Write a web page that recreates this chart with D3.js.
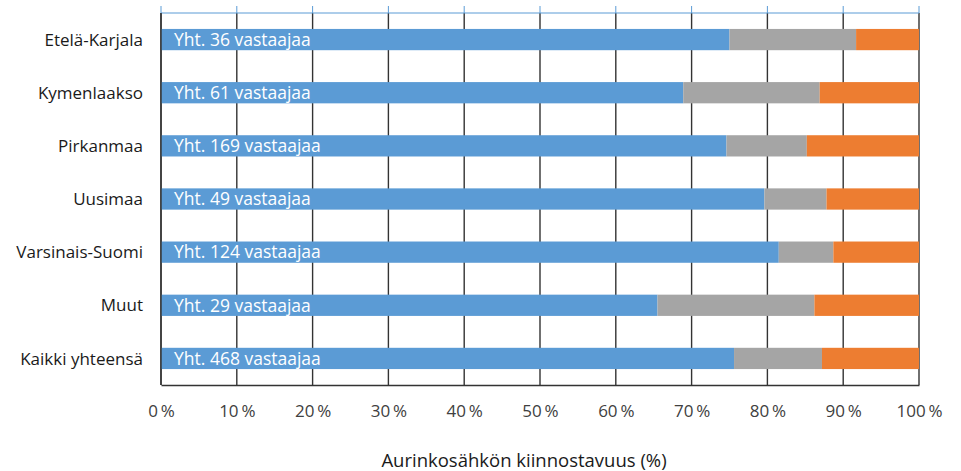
<!DOCTYPE html>
<html>
<head>
<meta charset="utf-8">
<script src="https://cdn.jsdelivr.net/npm/d3@7"></script>
<style>
  body { margin: 0; background: #fff; }
  svg { display: block; font-family: "Open Sans", "Noto Sans", sans-serif; }
</style>
</head>
<body>
<svg id="chart" width="961" height="471"></svg>
<script>
// data (percent of respondents)
var categories = ["Etelä-Karjala", "Kymenlaakso", "Pirkanmaa", "Uusimaa", "Varsinais-Suomi", "Muut", "Kaikki yhteensä"];
var respondents = [36, 61, 169, 49, 124, 29, 468];
var blueShare = [75.0, 68.9, 74.6, 79.6, 81.5, 65.5, 75.6];
var grayShare = [16.7, 18.0, 10.6, 8.2, 7.2, 20.7, 11.6];
var orangeShare = [8.3, 13.1, 14.8, 12.2, 11.3, 13.8, 12.8];
var tickValues = [0, 10, 20, 30, 40, 50, 60, 70, 80, 90, 100];
var axisTitle = "Aurinkosähkön kiinnostavuus (%)";

var colors = ["#5b9bd5", "#a5a5a5", "#ed7d31"];

var svg = d3.select("#chart");
// plot edges (window.top is taken, so own names)
var plotL = 161, plotR = 919, plotT = 13, plotB = 385;

var x = d3.scaleLinear().domain([0, 100]).range([plotL, plotR]);
var y = d3.scaleBand().domain(categories).range([plotT, plotB]).paddingInner(0.6).paddingOuter(0.3);

// vertical gridlines
svg.append("g")
    .selectAll("line")
    .data(tickValues)
    .enter()
    .append("line")
    .attr("x1", function (d) { return x(d); })
    .attr("x2", function (d) { return x(d); })
    .attr("y1", plotT)
    .attr("y2", plotB)
    .style("stroke", "#333")
    .style("stroke-width", 1.4);

// top axis line (light blue) with small ticks
var topAxis = svg.append("g");
topAxis.append("line")
    .attr("x1", plotL).attr("x2", plotR)
    .attr("y1", plotT).attr("y2", plotT)
    .style("stroke", "#5b9bd5")
    .style("stroke-width", 1);
topAxis.selectAll("line.tk")
    .data(tickValues)
    .enter()
    .append("line")
    .attr("class", "tk")
    .attr("x1", function (d) { return x(d); })
    .attr("x2", function (d) { return x(d); })
    .attr("y1", plotT - 7)
    .attr("y2", plotT)
    .style("stroke", "#5b9bd5")
    .style("stroke-width", 1);

// stacked bars
var rows = categories.map(function (c, i) {
    return { cat: c, n: respondents[i], parts: [blueShare[i], grayShare[i], orangeShare[i]] };
});

var rowG = svg.append("g")
    .selectAll("g.row")
    .data(rows)
    .enter()
    .append("g")
    .attr("class", "row");

rowG.each(function (r) {
    var start = 0;
    var g = d3.select(this);
    r.parts.forEach(function (v, k) {
        g.append("rect")
            .attr("x", x(start))
            .attr("y", y(r.cat))
            .attr("width", x(start + v) - x(start))
            .attr("height", y.bandwidth())
            .style("fill", colors[k]);
        start += v;
    });
    g.append("text")
        .attr("x", x(0) + 13)
        .attr("y", y(r.cat) + y.bandwidth() / 2)
        .attr("dy", "0.36em")
        .style("fill", "#fff")
        .style("font-size", "17.5px")
        .text("Yht. " + r.n + " vastaajaa");
});

// left axis line and bottom axis
svg.append("line")
    .attr("x1", plotL).attr("x2", plotL)
    .attr("y1", plotT).attr("y2", plotB)
    .style("stroke", "#333").style("stroke-width", 1.4);

var xAxis = d3.axisBottom(x)
    .tickValues(tickValues)
    .tickSize(0)
    .tickPadding(20)
    .tickFormat(function (d) { return d + "\u2009%"; });

var xg = svg.append("g")
    .attr("transform", "translate(0," + plotB + ")")
    .call(xAxis);
xg.select(".domain").style("stroke", "#333").style("stroke-width", 1.4);
xg.selectAll("text")
    .style("font-family", "'Open Sans', sans-serif")
    .style("font-size", "17px")
    .style("fill", "#404040");

// category labels
svg.append("g")
    .selectAll("text")
    .data(categories)
    .enter()
    .append("text")
    .attr("x", 143)
    .attr("y", function (d) { return y(d) + y.bandwidth() / 2; })
    .attr("dy", "0.36em")
    .attr("text-anchor", "end")
    .style("font-size", "17px")
    .style("fill", "#1a1a1a")
    .text(function (d) { return d; });

svg.append("text")
    .attr("x", 524)
    .attr("y", 460)
    .attr("dy", "0.36em")
    .attr("text-anchor", "middle")
    .style("font-size", "18.5px")
    .style("fill", "#1a1a1a")
    .text(axisTitle);
</script>
</body>
</html>
